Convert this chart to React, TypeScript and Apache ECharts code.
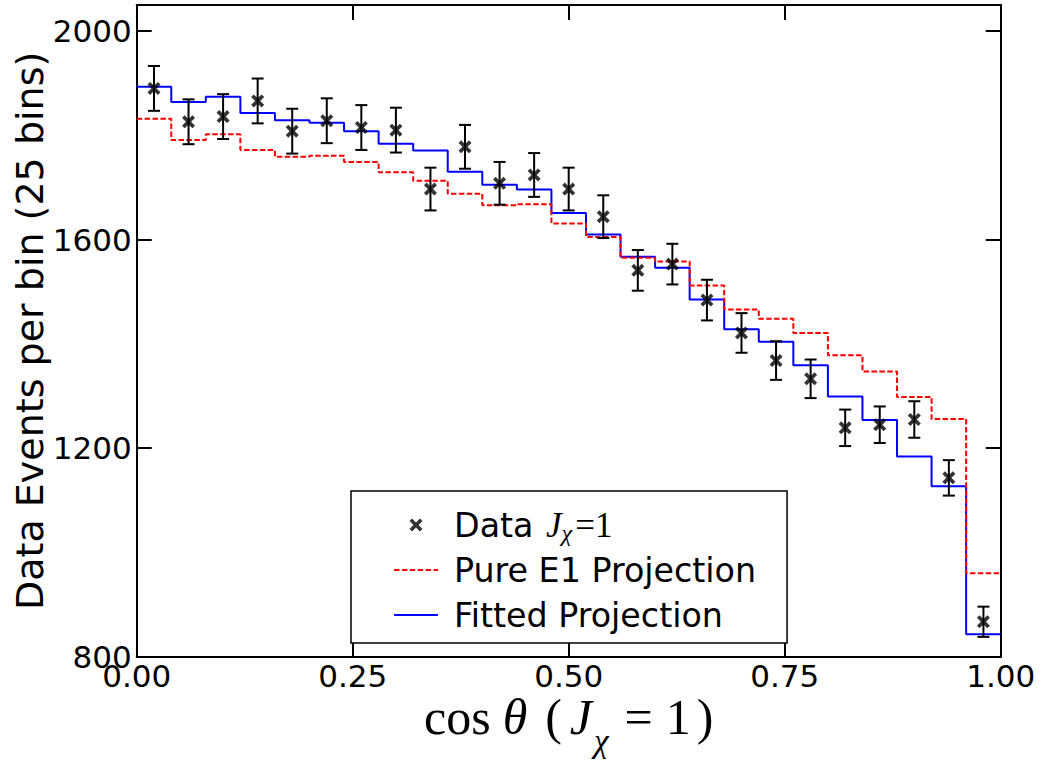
import React, { useEffect, useRef } from 'react';
import * as echarts from 'echarts';

const binEdges = [0, 0.04, 0.08, 0.12, 0.16, 0.2, 0.24, 0.28, 0.32, 0.36, 0.4, 0.44, 0.48, 0.52, 0.56, 0.6, 0.64, 0.68, 0.72, 0.76, 0.8, 0.84, 0.88, 0.92, 0.96, 1.0];
const dataCounts = [1890, 1826, 1836, 1866, 1808, 1828, 1815, 1810, 1697, 1778, 1708, 1724, 1697, 1644, 1541, 1553, 1484, 1421, 1368, 1333, 1239, 1245, 1255, 1143, 867];
const dataErrors = [43, 43, 43, 43, 43, 43, 43, 43, 41, 42, 41, 42, 41, 41, 39, 39, 39, 38, 37, 37, 35, 35, 35, 34, 29];
const fittedProjection = [1893, 1864, 1874, 1843, 1829, 1824, 1808, 1784, 1771, 1730, 1705, 1696, 1651, 1610, 1567, 1546, 1485, 1428, 1404, 1359, 1299, 1254, 1184, 1127, 843];
const pureE1Projection = [1832, 1791, 1802, 1772, 1759, 1761, 1749, 1729, 1713, 1688, 1666, 1668, 1631, 1605, 1565, 1558, 1512, 1466, 1448, 1421, 1378, 1347, 1298, 1256, 960];
const xTickLabels = ['0.00', '0.25', '0.50', '0.75', '1.00'];
const yTickValues = [800, 1200, 1600, 2000];

const X_MARK = 'path://M20 0L50 30L80 0L100 20L70 50L100 80L80 100L50 70L20 100L0 80L30 50L0 20Z';

export default function App() {
  const ref = useRef<HTMLDivElement>(null);
  useEffect(() => {
    const chart = echarts.init(ref.current!, null, { renderer: 'svg' });
    const centers = dataCounts.map((_, i) => (binEdges[i] + binEdges[i + 1]) / 2);
    const step = (vals: number[]) => binEdges.map((e, i) => [e, vals[Math.min(i, vals.length - 1)]]);

    const black = '#000';
    const axisLine = { show: true, onZero: false, lineStyle: { color: black, width: 2 } };
    const axisTick = { show: true, inside: true, length: 15, lineStyle: { color: black, width: 2 } };
    const serif = 'Liberation Serif';
    const mainMath = { fontFamily: serif, fontSize: 50, lineHeight: 65, verticalAlign: 'top', color: black };
    const hiddenSymbol = { opacity: 0, color: 'rgba(0,0,0,0)', borderWidth: 0 };

    const option: any = {
      animation: false,
      backgroundColor: '#fff',
      grid: { left: 136.7, right: 46.3, top: 5, bottom: 103.3, containLabel: false, outerBoundsMode: 'none' },
      xAxis: [
        {
          type: 'value', position: 'bottom', min: 0, max: 1, interval: 0.25,
          axisLine, axisTick, splitLine: { show: false },
          axisLabel: {
            margin: 4, fontSize: 31, fontFamily: 'DejaVu Sans', color: black,
            formatter: (v: number) => xTickLabels[Math.round(v / 0.25)] ?? '',
          },
          name: '{c|cos}{t|θ}{p|(}{j|J}{x|χ}{e|=}{o|1}{q|)}',
          nameLocation: 'middle', nameGap: 35.5, nameMoveOverlap: false,
          nameTextStyle: {
            color: black,
            rich: {
              c: { ...mainMath, padding: [0, 12, 0, 0] },
              t: { ...mainMath, fontStyle: 'italic', padding: [0, 18, 0, 0] },
              p: { ...mainMath },
              j: { ...mainMath, fontStyle: 'italic', padding: [0, 0, 0, 8] },
              x: { fontFamily: serif, fontSize: 33, fontStyle: 'italic', lineHeight: 65, verticalAlign: 'bottom', color: black, padding: [0, 9, 0, 2] },
              e: { ...mainMath, padding: [0, 13, 0, 7] },
              o: { ...mainMath, padding: [0, 6, 0, 0] },
              q: { ...mainMath },
            },
          },
        },
        {
          type: 'value', position: 'top', min: 0, max: 1, interval: 0.25,
          axisLine, axisTick, splitLine: { show: false }, axisLabel: { show: false },
        },
      ],
      yAxis: [
        {
          type: 'value', position: 'left', min: 800, max: 2050, interval: 400,
          axisLine, axisTick, splitLine: { show: false },
          axisLabel: {
            margin: 5, fontSize: 31, fontFamily: 'DejaVu Sans', color: black,
            formatter: (v: number) => (yTickValues.includes(v) ? String(v) : ''),
          },
          name: 'Data Events per bin (25 bins)',
          nameLocation: 'middle', nameGap: 88, nameMoveOverlap: false,
          nameTextStyle: { fontFamily: 'DejaVu Sans', fontSize: 38, color: black },
        },
        {
          type: 'value', position: 'right', min: 800, max: 2050, interval: 400,
          axisLine, axisTick, splitLine: { show: false }, axisLabel: { show: false },
        },
      ],
      legend: {
        left: 351, top: 491, orient: 'vertical',
        padding: [14, 31, 8, 42], itemGap: 5, itemWidth: 44, itemHeight: 13,
        backgroundColor: '#fff', borderColor: black, borderWidth: 1.5, borderRadius: 0,
        data: [
          { name: 'Data' },
          { name: 'Pure E1 Projection', itemStyle: hiddenSymbol },
          { name: 'Fitted Projection', itemStyle: hiddenSymbol },
        ],
        formatter: (name: string) => (name === 'Data' ? '{a|Data }{j|J}{x|χ}{e|=1}' : name),
        textStyle: {
          fontFamily: 'DejaVu Sans', fontSize: 33.3, color: black, lineHeight: 40, padding: [0, 0, 0, 11],
          rich: {
            a: { fontFamily: 'DejaVu Sans', fontSize: 33.3, lineHeight: 40, color: black },
            j: { fontFamily: serif, fontStyle: 'italic', fontSize: 35, lineHeight: 40, color: black, padding: [0, 0, 0, 2] },
            x: { fontFamily: serif, fontStyle: 'italic', fontSize: 24, lineHeight: 40, verticalAlign: 'bottom', color: black, padding: [0, 3, 0, 0] },
            e: { fontFamily: serif, fontSize: 35, lineHeight: 40, color: black },
          },
        },
      },
      series: [
        {
          name: 'Fitted Projection', type: 'line', step: 'end', data: step(fittedProjection),
          symbol: 'none', showSymbol: false,
          lineStyle: { color: '#0000ff', width: 2 }, itemStyle: { color: '#0000ff' }, z: 2,
        },
        {
          name: 'Pure E1 Projection', type: 'line', step: 'end', data: step(pureE1Projection),
          symbol: 'none', showSymbol: false,
          lineStyle: { color: '#ff0000', width: 2, type: [5.5, 2.4] }, itemStyle: { color: '#ff0000' }, z: 3,
        },
        {
          name: 'errors', type: 'custom', z: 4,
          data: centers.map((c, i) => [c, dataCounts[i], dataErrors[i]]),
          encode: { x: 0, y: 1 },
          renderItem: (params: any, api: any) => {
            const x = api.value(0);
            const y = api.value(1);
            const e = api.value(2);
            const top = api.coord([x, y + e]);
            const bot = api.coord([x, y - e]);
            const cap = 6;
            const style = { stroke: black, lineWidth: 2 };
            return {
              type: 'group',
              children: [
                { type: 'line', shape: { x1: top[0], y1: top[1], x2: bot[0], y2: bot[1] }, style },
                { type: 'line', shape: { x1: top[0] - cap, y1: top[1], x2: top[0] + cap, y2: top[1] }, style },
                { type: 'line', shape: { x1: bot[0] - cap, y1: bot[1], x2: bot[0] + cap, y2: bot[1] }, style },
              ],
            };
          },
        },
        {
          name: 'Data', type: 'scatter', z: 5,
          data: centers.map((c, i) => [c, dataCounts[i]]),
          symbol: X_MARK, symbolSize: 13,
          itemStyle: { color: black },
        },
      ],
    };
    chart.setOption(option);
    return () => chart.dispose();
  }, []);
  return <div ref={ref} style={{ position: 'fixed', left: 0, top: 0, width: 1047, height: 760, background: '#fff' }} />;
}
